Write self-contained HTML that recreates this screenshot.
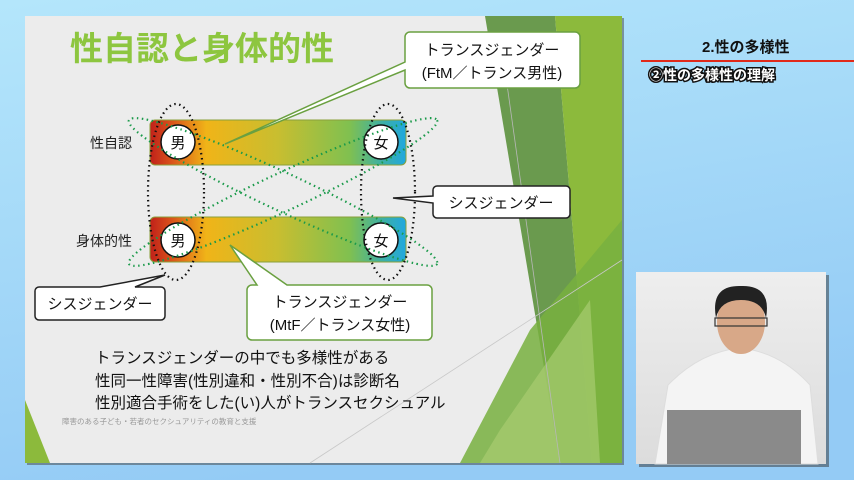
<!DOCTYPE html>
<html><head><meta charset="utf-8"><style>
html,body{margin:0;padding:0;width:854px;height:480px;overflow:hidden;background:#a8dcf8}
svg{display:block}
text{font-family:"Liberation Sans","Noto Sans CJK JP",sans-serif}
</style></head><body>
<svg width="854" height="480" viewBox="0 0 854 480" xmlns="http://www.w3.org/2000/svg">
<defs>
<linearGradient id="bg" x1="0" y1="0" x2="0.3" y2="1"><stop offset="0" stop-color="#b4e6fb"/><stop offset="1" stop-color="#94cbf5"/></linearGradient>
<linearGradient id="bar" x1="0" y1="0" x2="1" y2="0">
<stop offset="0" stop-color="#c0201a"/><stop offset="0.08" stop-color="#d8501a"/><stop offset="0.22" stop-color="#f0b418"/><stop offset="0.5" stop-color="#c8be30"/><stop offset="0.78" stop-color="#80c050"/><stop offset="0.9" stop-color="#40b0a0"/><stop offset="1" stop-color="#20a8e0"/></linearGradient>
<linearGradient id="vid" x1="0" y1="0" x2="0" y2="1"><stop offset="0" stop-color="#eeeeee"/><stop offset="1" stop-color="#dcdcdc"/></linearGradient>
</defs>
<rect width="854" height="480" fill="url(#bg)"/>
<rect x="27" y="18" width="597" height="447" fill="#444" opacity="0.5"/>
<rect x="25" y="16" width="597" height="447" fill="#ececec"/>
<polygon points="485,16 555,16 592,463 560,463" fill="#6a9a4e"/>
<polygon points="555,16 622,16 622,463 592,463 " fill="#8cba3c"/>
<polygon points="530,330 622,220 622,463 460,463" fill="#78b040" opacity="0.85"/>
<polygon points="500,430 590,300 600,463 480,463" fill="#a8cc70" opacity="0.7"/>
<polygon points="25,400 50,463 25,463" fill="#8cba3c"/>
<line x1="505" y1="70" x2="560" y2="463" stroke="#b8b8b8" stroke-width="0.8"/>
<line x1="310" y1="463" x2="622" y2="260" stroke="#c8c8c8" stroke-width="0.8"/>
<text x="70" y="60" font-size="33" font-weight="bold" fill="#8dc63f">性自認と身体的性</text>
<rect x="150" y="120" width="256" height="45" rx="5" fill="url(#bar)" stroke="#8aa03a"/>
<rect x="150" y="217" width="256" height="45" rx="5" fill="url(#bar)" stroke="#8aa03a"/>
<g fill="#fff" stroke="#111" stroke-width="1.5">
<circle cx="178" cy="142" r="17"/><circle cx="381" cy="142" r="17"/>
<circle cx="178" cy="240" r="17"/><circle cx="381" cy="240" r="17"/></g>
<g font-size="15" text-anchor="middle" fill="#111"><text x="178" y="148">男</text><text x="381" y="148">女</text><text x="178" y="246">男</text><text x="381" y="246">女</text></g>
<text x="90" y="148" font-size="14" fill="#222">性自認</text>
<text x="76" y="246" font-size="14" fill="#222">身体的性</text>
<g fill="none" stroke="#1a9a4a" stroke-width="2.2" stroke-dasharray="1.5 3.5">
<ellipse cx="283" cy="192" rx="170" ry="19" transform="rotate(25 283 192)"/>
<ellipse cx="283" cy="192" rx="170" ry="19" transform="rotate(-25 283 192)"/></g>
<g fill="none" stroke="#111" stroke-width="2.2" stroke-dasharray="1.5 3.5">
<ellipse cx="176" cy="192" rx="28" ry="88"/><ellipse cx="388" cy="192" rx="27" ry="88"/></g>
<g stroke-width="1.5">
<path d="M410,32 H575 a5,5 0 0 1 5,5 V83 a5,5 0 0 1 -5,5 H410 a5,5 0 0 1 -5,-5 V70 L225,144 L405,62 V37 a5,5 0 0 1 5,-5Z" fill="#fff" stroke="#6aa040"/>
<path d="M437,186 H566 a4,4 0 0 1 4,4 V214 a4,4 0 0 1 -4,4 H437 a4,4 0 0 1 -4,-4 V203 L393,198 L433,196 V190 a4,4 0 0 1 4,-4Z" fill="#fff" stroke="#222"/>
<path d="M39,287 H100 L165,275 L135,287 H161 a4,4 0 0 1 4,4 V316 a4,4 0 0 1 -4,4 H39 a4,4 0 0 1 -4,-4 V291 a4,4 0 0 1 4,-4Z" fill="#fff" stroke="#222"/>
<path d="M252,285 H257 L230,245 L287,285 H427 a5,5 0 0 1 5,5 V335 a5,5 0 0 1 -5,5 H252 a5,5 0 0 1 -5,-5 V290 a5,5 0 0 1 5,-5Z" fill="#fff" stroke="#6aa040"/>
</g>
<g font-size="15" fill="#111" text-anchor="middle">
<text x="492" y="55">トランスジェンダー</text>
<text x="492" y="78">(FtM／トランス男性)</text>
<text x="501" y="208">シスジェンダー</text>
<text x="100" y="309">シスジェンダー</text>
<text x="340" y="307">トランスジェンダー</text>
<text x="340" y="330">(MtF／トランス女性)</text></g>
<g font-size="15.5" fill="#111">
<text x="95" y="363">トランスジェンダーの中でも多様性がある</text>
<text x="95" y="386">性同一性障害(性別違和・性別不合)は診断名</text>
<text x="95" y="408">性別適合手術をした(い)人がトランスセクシュアル</text></g>
<text x="62" y="424" font-size="7.5" fill="#999">障害のある子ども・若者のセクシュアリティの教育と支援</text>
<text x="702" y="52" font-size="15" font-weight="bold" fill="#111">2.性の多様性</text>
<rect x="641" y="60" width="213" height="2" fill="#e02a1a"/>
<text x="649" y="80" font-size="14" font-weight="bold" fill="#fff" stroke="#111" stroke-width="3" paint-order="stroke">②性の多様性の理解</text>
<rect x="639" y="275" width="190" height="192" fill="#333" opacity="0.5"/>
<rect x="636" y="272" width="190" height="192" fill="url(#vid)"/>
<path d="M655,464 L668,385 Q700,352 740,348 Q780,352 810,385 L818,464Z" fill="#f4f4f4" stroke="#ddd"/>
<ellipse cx="741" cy="322" rx="24" ry="32" fill="#d8a888"/>
<path d="M716,318 Q710,285 741,286 Q772,285 766,318 Q762,300 741,300 Q720,300 716,318Z" fill="#222"/>
<rect x="715" y="318" width="52" height="8" fill="none" stroke="#333" stroke-width="1.2"/>
<rect x="667" y="410" width="134" height="54" fill="#8a8a8a"/>
</svg>
</body></html>
